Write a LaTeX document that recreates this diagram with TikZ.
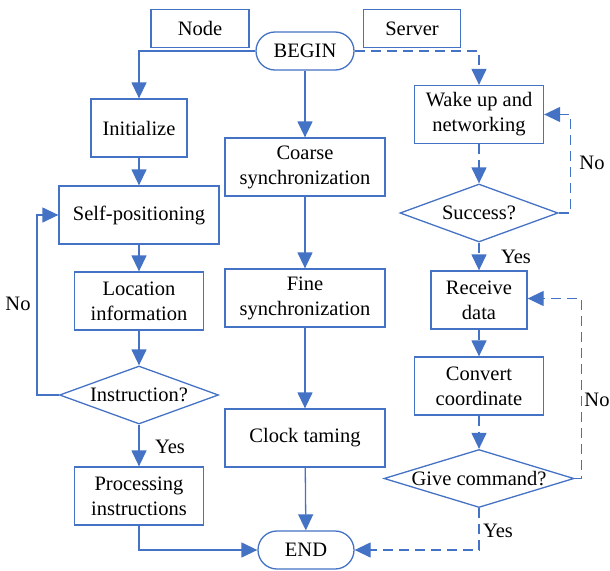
\documentclass[tikz,border=0pt]{standalone}
\usepackage{fontspec}
\setmainfont{Liberation Serif}
\usetikzlibrary{shapes.geometric,arrows.meta}
\definecolor{lblue}{RGB}{68,114,196}
\begin{document}
\begin{tikzpicture}[x=1pt,y=-1pt,
  font=\fontsize{20.5}{25}\selectfont,
  box/.style={draw=lblue,line width=1.3pt,rectangle,inner sep=0pt,align=center,text=black},
  term/.style={box,rounded corners=19pt,minimum width=98pt,minimum height=38pt},
  dia/.style={draw=lblue,line width=1.3pt,diamond,inner sep=0pt},
  arr/.style={draw=lblue,line width=1.3pt,-{Triangle[length=16pt,width=15pt]}},
  dsh/.style={dash pattern=on 10pt off 6pt},
  lbl/.style={text=black,inner sep=0pt}
]
\useasboundingbox (0,0) rectangle (610,570);
% header boxes
\node[box,minimum width=98pt,minimum height=38pt] (nodeh) at (200,28.5) {Node};
\node[box,minimum width=97pt,minimum height=38pt] (serverh) at (412,28.5) {Server};
\node[term] (begin) at (305,51) {BEGIN};
% left column
\node[box,minimum width=96pt,minimum height=58pt] (init) at (139,128) {Initialize};
\node[box,minimum width=160pt,minimum height=58pt] (self) at (139,215) {Self-positioning};
\node[box,minimum width=129pt,minimum height=58pt] (loc) at (139,301) {Location\\information};
\node[dia,minimum width=159pt,minimum height=58pt,label={center:Instruction?}] (instr) at (139,395) {};
\node[box,minimum width=129pt,minimum height=58pt] (proc) at (139,496) {Processing\\instructions};
% middle column
\node[box,minimum width=160pt,minimum height=58pt] (coarse) at (305,167) {Coarse\\synchronization};
\node[box,minimum width=160pt,minimum height=58pt] (fine) at (305,298) {Fine\\synchronization};
\node[box,minimum width=160pt,minimum height=58pt] (clock) at (305,438) {Clock taming};
\node[term,minimum width=96pt] (end) at (306,550) {END};
% right column
\node[box,minimum width=129pt,minimum height=58pt] (wake) at (479,114.5) {Wake up and\\networking};
\node[dia,minimum width=158pt,minimum height=58pt,label={center:Success?}] (succ) at (479,213) {};
\node[box,minimum width=96pt,minimum height=58pt] (recv) at (479,300) {Receive\\data};
\node[box,minimum width=129pt,minimum height=58pt] (conv) at (479,386) {Convert\\coordinate};
\node[dia,minimum width=190pt,minimum height=58pt,label={center:Give command?}] (give) at (479,478.5) {};
% labels
\node[lbl] (no1) at (18,304) {No};
\node[lbl] (yes1) at (170,447) {Yes};
\node[lbl] (yes2) at (516,257) {Yes};
\node[lbl] (no2) at (592,163) {No};
\node[lbl] (no3) at (597,400) {No};
\node[lbl] (yes3) at (498,531) {Yes};
% connectors
\draw[arr] (begin.west) -| (init.north);
\draw[arr] (begin.south) -- (coarse.north);
\draw[arr,dsh] (begin.east) -| (wake.north);
\draw[arr] (init) -- (self);
\draw[arr] (self) -- (loc);
\draw[arr] (loc) -- (instr);
\draw[arr] (instr.west) -- ++(-22,0) |- (self.west);
\draw[arr] (instr.south) -- (proc.north);
\draw[arr] (proc.south) |- (end.west);
\draw[arr] (coarse) -- (fine);
\draw[arr] (fine) -- (clock);
\draw[arr] (clock) -- (end);
\draw[arr,dsh] (wake) -- (succ);
\draw[arr,dsh] (succ.east) -- ++(12,0) |- (wake.east);
\draw[arr,dsh] (succ.south) -- (recv.north);
\draw[arr,dsh] (recv) -- (conv);
\draw[arr,dsh] (conv) -- (give);
\draw[arr,dsh] (give.east) -- ++(7,0) |- ([yshift=1.5pt]recv.east);
\draw[arr,dsh] (give.south) |- (end.east);
\end{tikzpicture}
\end{document}
